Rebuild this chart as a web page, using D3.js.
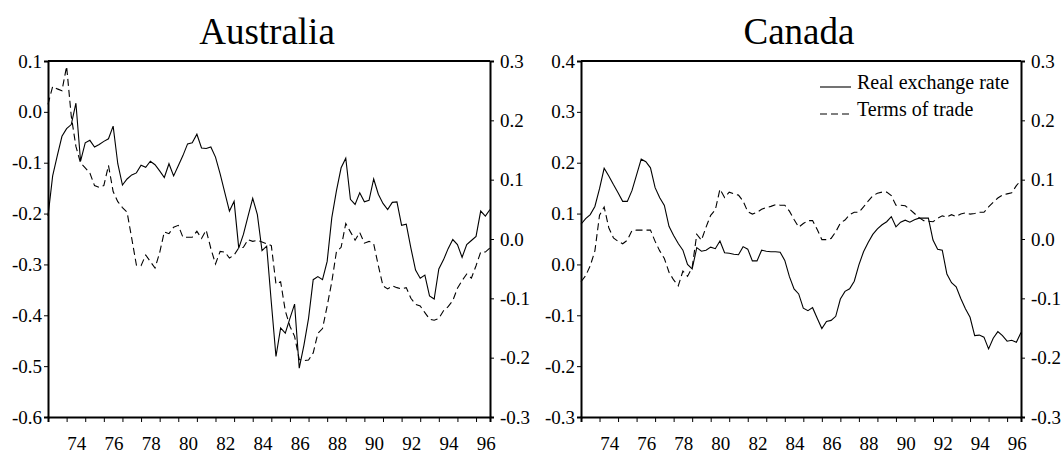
<!DOCTYPE html>
<meta charset="utf-8">
<head>
  <title>Real exchange rate and terms of trade</title>
  <style>
  body { margin: 0; background: #fff; }
  text { font-family: "Liberation Serif", "Times New Roman", serif; fill: #000; }
  .axis path, .axis line { stroke: #000; }
  .axis path { stroke-width: 2px; }
  </style>
</head>
<html>
  <body>
    <svg width="1064" height="453"></svg>
  </body>
</html>
<script src="https://d3js.org/d3.v7.min.js"></script>
<script>
// quarterly, 1973Q1 - 1996Q4
var startYear = 1973;
var yearTicks = d3.range(1973, 1997);
var yearLabels = ["74", "76", "78", "80", "82", "84", "86", "88", "90", "92", "94", "96"];

var auRer = [-0.205,-0.126,-0.086,-0.048,-0.033,-0.025,0.017,-0.097,-0.061,-0.056,
  -0.069,-0.064,-0.058,-0.053,-0.028,-0.102,-0.144,-0.132,-0.124,-0.120,
  -0.105,-0.109,-0.097,-0.104,-0.116,-0.129,-0.102,-0.126,-0.106,-0.086,
  -0.063,-0.061,-0.044,-0.071,-0.072,-0.069,-0.089,-0.122,-0.159,-0.195,
  -0.176,-0.268,-0.241,-0.205,-0.170,-0.202,-0.273,-0.264,-0.375,-0.481,
  -0.425,-0.435,-0.406,-0.378,-0.504,-0.459,-0.406,-0.330,-0.324,-0.330,
  -0.294,-0.208,-0.155,-0.110,-0.091,-0.172,-0.182,-0.159,-0.177,-0.174,
  -0.132,-0.162,-0.180,-0.192,-0.178,-0.177,-0.223,-0.221,-0.268,-0.311,
  -0.327,-0.321,-0.362,-0.368,-0.309,-0.291,-0.269,-0.251,-0.261,-0.286,
  -0.261,-0.253,-0.245,-0.195,-0.205,-0.192];

var auTot = [0.227,0.257,0.253,0.250,0.291,0.207,0.156,0.128,0.120,0.111,
  0.090,0.087,0.090,0.124,0.080,0.063,0.053,0.045,0.001,-0.044,
  -0.045,-0.027,-0.038,-0.049,-0.023,0.012,0.009,0.020,0.023,0.003,
  0.003,0.003,0.013,0.001,0.015,-0.016,-0.042,-0.021,-0.022,-0.032,
  -0.027,-0.015,-0.014,-0.001,-0.004,-0.002,-0.005,-0.008,-0.011,-0.076,
  -0.072,-0.121,-0.147,-0.164,-0.203,-0.205,-0.204,-0.192,-0.159,-0.151,
  -0.113,-0.072,-0.021,-0.014,0.026,0.012,-0.002,0.011,-0.007,-0.004,
  -0.008,-0.045,-0.079,-0.084,-0.079,-0.082,-0.084,-0.082,-0.100,-0.110,
  -0.113,-0.124,-0.135,-0.137,-0.134,-0.121,-0.114,-0.104,-0.083,-0.070,
  -0.059,-0.066,-0.045,-0.022,-0.022,-0.015];

var caRer = [0.079,0.090,0.098,0.114,0.149,0.189,0.174,0.157,0.141,0.124,
  0.124,0.145,0.176,0.207,0.202,0.190,0.151,0.131,0.116,0.075,
  0.057,0.041,0.028,0.000,-0.009,0.033,0.026,0.028,0.034,0.031,
  0.046,0.023,0.022,0.020,0.019,0.035,0.030,0.007,0.007,0.028,
  0.026,0.025,0.025,0.024,0.008,-0.024,-0.048,-0.058,-0.086,-0.091,
  -0.085,-0.106,-0.126,-0.112,-0.110,-0.102,-0.068,-0.053,-0.048,-0.033,
  -0.001,0.025,0.043,0.059,0.070,0.078,0.084,0.094,0.074,0.083,
  0.087,0.083,0.088,0.091,0.091,0.091,0.048,0.030,0.028,-0.019,
  -0.036,-0.044,-0.067,-0.087,-0.104,-0.140,-0.139,-0.143,-0.166,-0.145,
  -0.132,-0.140,-0.151,-0.149,-0.153,-0.134];

var caTot = [-0.072,-0.062,-0.045,-0.020,0.040,0.054,0.019,0.002,-0.004,-0.008,
  -0.002,0.014,0.015,0.015,0.015,0.015,-0.004,-0.020,-0.033,-0.056,
  -0.069,-0.079,-0.054,-0.063,-0.048,0.008,-0.002,0.020,0.040,0.049,
  0.084,0.070,0.079,0.076,0.074,0.064,0.046,0.042,0.045,0.050,
  0.053,0.055,0.058,0.057,0.057,0.047,0.033,0.020,0.026,0.031,
  0.031,0.016,-0.001,-0.001,0.001,0.012,0.027,0.032,0.041,0.045,
  0.045,0.054,0.064,0.073,0.077,0.079,0.079,0.073,0.057,0.057,
  0.056,0.050,0.043,0.036,0.031,0.030,0.029,0.035,0.039,0.037,
  0.041,0.038,0.042,0.044,0.042,0.043,0.045,0.045,0.054,0.062,
  0.069,0.074,0.076,0.078,0.090,0.099];

var auLeftTicks = [-0.6, -0.5, -0.4, -0.3, -0.2, -0.1, 0.0, 0.1];
var caLeftTicks = [-0.3, -0.2, -0.1, 0.0, 0.1, 0.2, 0.3, 0.4];
var rightTicks = [-0.3, -0.2, -0.1, 0.0, 0.1, 0.2, 0.3];

var legendNames = ["Real exchange rate", "Terms of trade"];

var svg = d3.select("svg");
var plotTop = 61, plotBottom = 417;
var serif = "'Liberation Serif', 'Times New Roman', serif";

var panels = [
  {title: "Australia", left: 48, right: 490, rer: auRer, tot: auTot, leftTicks: auLeftTicks, legend: false},
  {title: "Canada", left: 581, right: 1021, rer: caRer, tot: caTot, leftTicks: caLeftTicks, legend: true}
];

// plain hyphen for negatives, like the original
var fmt = function(d) { return d3.format(".1f")(d).replace("\u2212", "-"); };

function styleAxis(sel) {
  sel.attr("font-family", serif).attr("font-size", 19);
  sel.selectAll("text").style("font-family", serif).style("font-size", "19px");
}

panels.forEach(function(p) {
  var x = d3.scaleLinear().domain([startYear, 1996.75]).range([p.left, p.right]);
  var yL = d3.scaleLinear().domain(d3.extent(p.leftTicks)).range([plotBottom, plotTop]);
  var yR = d3.scaleLinear().domain(d3.extent(rightTicks)).range([plotBottom, plotTop]);

  var g = svg.append("g");

  g.append("text")
      .attr("x", (p.left + p.right) / 2 - 2)
      .attr("y", 44)
      .attr("text-anchor", "middle")
      .style("font-size", "37px")
      .text(p.title);

  // top border
  g.append("line")
      .attr("x1", p.left).attr("x2", p.right)
      .attr("y1", plotTop).attr("y2", plotTop)
      .attr("stroke", "#000")
      .attr("stroke-width", 2);

  g.append("g")
      .attr("class", "axis")
      .attr("transform", "translate(" + p.left + ",0)")
      .call(d3.axisLeft(yL).tickValues(p.leftTicks).tickFormat(fmt).tickSizeOuter(0).tickSize(4).tickPadding(2))
      .call(styleAxis);

  g.append("g")
      .attr("class", "axis")
      .attr("transform", "translate(" + p.right + ",0)")
      .call(d3.axisRight(yR).tickValues(rightTicks).tickFormat(fmt).tickSizeOuter(0).tickSize(4).tickPadding(6))
      .call(styleAxis);

  g.append("g")
      .attr("class", "axis")
      .attr("transform", "translate(0," + plotBottom + ")")
      .call(d3.axisBottom(x).tickValues(yearTicks).tickFormat("").tickSizeOuter(0).tickSize(5));

  g.selectAll(".yearlab")
      .data(yearLabels)
    .enter().append("text")
      .attr("class", "yearlab")
      .attr("x", function(d) { return x(1900 + +d + 0.55); })
      .attr("y", 450)
      .attr("text-anchor", "middle")
      .style("font-size", "19px")
      .text(function(d) { return d; });

  var lineL = d3.line()
      .x(function(d, i) { return x(startYear + i / 4); })
      .y(function(d) { return yL(d); });
  var lineR = d3.line()
      .x(function(d, i) { return x(startYear + i / 4); })
      .y(function(d) { return yR(d); });

  g.append("path")
      .datum(p.tot)
      .attr("fill", "none")
      .attr("stroke", "#000")
      .attr("stroke-width", 1.1)
      .attr("stroke-dasharray", "7,4")
      .attr("d", lineR);

  g.append("path")
      .datum(p.rer)
      .attr("fill", "none")
      .attr("stroke", "#000")
      .attr("stroke-width", 1.1)
      .attr("d", lineL);

  if (p.legend) {
    var lg = g.append("g");
    lg.selectAll("line")
        .data(legendNames)
      .enter().append("line")
        .attr("x1", 820).attr("x2", 851)
        .attr("y1", function(d, i) { return 87 + i * 27; })
        .attr("y2", function(d, i) { return 87 + i * 27; })
        .attr("stroke", "#000")
        .attr("stroke-width", 1.1)
        .attr("stroke-dasharray", function(d, i) { return i ? "7,4" : null; });
    lg.selectAll("text")
        .data(legendNames)
      .enter().append("text")
        .attr("x", 857)
        .attr("y", function(d, i) { return 89 + i * 27; })
        .style("font-size", "20px")
        .text(function(d) { return d; });
  }
});
</script>
